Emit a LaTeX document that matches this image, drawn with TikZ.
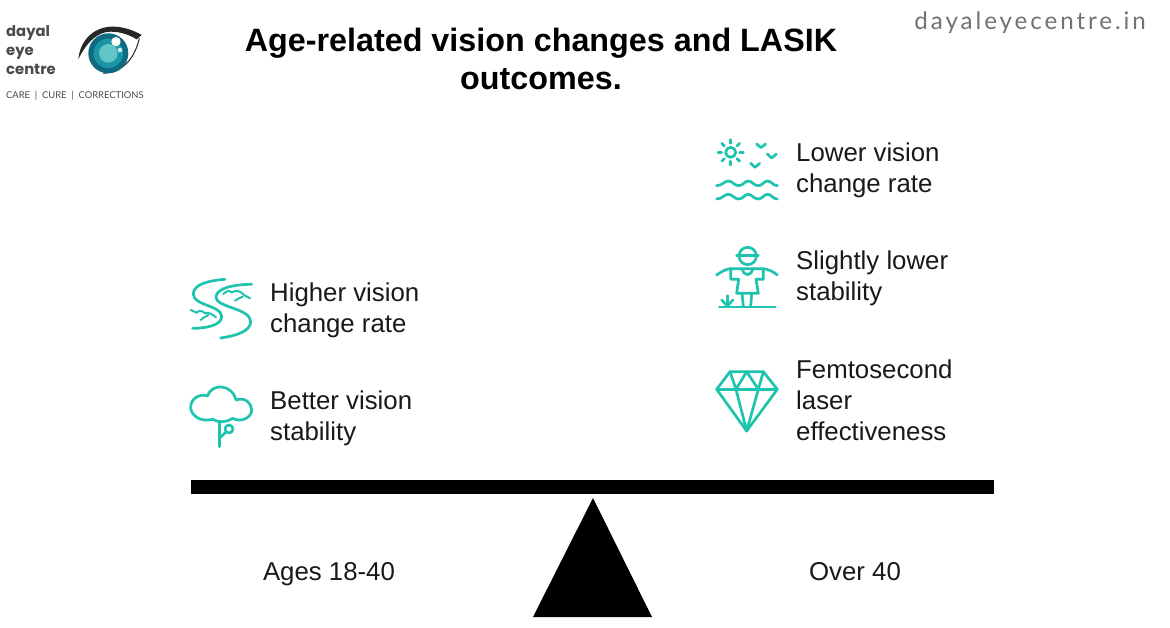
\documentclass[tikz,border=0pt]{standalone}
\usepackage{fontspec}
\setmainfont{Liberation Sans}
\newfontfamily\logofont{Poppins}
\newfontfamily\tagfont{Lato}
\newfontfamily\sitefont[LetterSpace=12]{Lato}
\definecolor{iconteal}{HTML}{1FC4AE}
\definecolor{logogray}{HTML}{4A4A4A}
\definecolor{irisdark}{HTML}{0E6A80}
\definecolor{irismid}{HTML}{1A96A8}
\definecolor{irislight}{HTML}{62C6C8}
\tikzset{
    x=1pt, y=-1pt,
    icon-line/.style = {draw=iconteal, line width=2.7pt, line cap=round, line join=round},
    zoomed/.style = {x=0.3333pt, y=-0.3333pt},
    title-text/.style = {font=\fontsize{32.3}{38.5}\selectfont\bfseries, align=center, inner sep=0pt},
    item-text/.style = {font=\fontsize{25.8}{31}\selectfont, align=left, anchor=north west, inner sep=0pt, text=black!90},
    age-text/.style = {font=\fontsize{25.8}{31}\selectfont, anchor=base, inner sep=0pt, text=black!90},
}

\begin{document}
\begin{tikzpicture}
\useasboundingbox (0,0) rectangle (1170,628);
\fill[white] (0,0) rectangle (1170,628);

% logo
\node[font=\logofont\fontsize{14.8}{19}\selectfont\bfseries, text=logogray, align=left, anchor=north west, inner sep=0pt] (logoname) at (6,25) {dayal\\eye\\centre};
\node[font=\tagfont\fontsize{9.4}{11}\selectfont, text=logogray, anchor=west, inner sep=0pt] (logotag) at (6,96) {CARE\ \ |\ \ CURE\ \ |\ \ CORRECTIONS};
\begin{scope}[shift={(0,10)}, zoomed]
    \fill[black!85] (235,148) .. controls (240,95) and (275,55) .. (330,50) .. controls (365,48) and (400,60) .. (425,75) -- (410,88) .. controls (385,72) and (350,62) .. (320,66) .. controls (285,72) and (255,105) .. (235,148) -- cycle;
    \draw[black!85, line width=1pt] (418,85) .. controls (405,140) and (375,185) .. (310,190);
    \fill[irisdark] (325,130) circle (60);
    \fill[irismid] (325,130) circle (44);
    \fill[irislight] (325,130) circle (28);
    \fill[white] (348,95) circle (14);
    \fill[white!80!cyan] (360,120) circle (7);
\end{scope}

% site name
\node[font=\sitefont\fontsize{24.2}{28}\selectfont, text=black!55, anchor=east, inner sep=0pt] (site) at (1146,23) {dayaleyecentre.in};

% title
\node[title-text] (title) at (541,59) {Age-related vision changes and LASIK\\outcomes.};

% left side texts
\node[item-text] (higher) at (270,283) {Higher vision\\change rate};
\node[item-text] (better) at (270,391) {Better vision\\stability};

% right side texts
\node[item-text] (lower) at (796,143) {Lower vision\\change rate};
\node[item-text] (slightly) at (796,251) {Slightly lower\\stability};
\node[item-text] (femto) at (796,360) {Femtosecond\\laser\\effectiveness};

% sun, birds, waves
\begin{scope}[shift={(700,130)}, zoomed]
    \draw[icon-line] (92,67) circle (15);
    \foreach \ang in {0,45,...,315}
        \draw[icon-line] (92,67) ++(\ang:27) -- ++(\ang:11);
    \draw[icon-line] (170,42) -- (183,53) -- (197,42);
    \draw[icon-line] (202,72) -- (215,84) -- (229,72);
    \draw[icon-line] (152,100) -- (165,112) -- (179,100);
    \foreach \yy in {160,200} {
        \draw[icon-line] (50,\yy+7) .. controls (68,\yy+7) and (72,\yy-7) .. (85,\yy-7) .. controls (98,\yy-7) and (102,\yy+7) .. (116,\yy+7)
            .. controls (130,\yy+7) and (133,\yy-7) .. (145,\yy-7) .. controls (157,\yy-7) and (160,\yy+7) .. (175,\yy+7)
            .. controls (188,\yy+7) and (191,\yy-7) .. (203,\yy-7) .. controls (215,\yy-7) and (218,\yy+7) .. (232,\yy+7);
    }
\end{scope}

% scarecrow
\begin{scope}[shift={(700,130)}, zoomed]
    \draw[icon-line] (110,377) -- (175,377);
    \draw[icon-line] (143,378) circle (26);
    \draw[icon-line] (50,435) .. controls (65,425) and (75,418) .. (92,416) -- (190,416) .. controls (205,418) and (220,425) .. (232,435);
    \draw[icon-line] (92,416) -- (92,448) -- (116,448) -- (110,490) -- (175,490) -- (168,448) -- (190,448) -- (190,416);
    \draw[icon-line] (127,416) .. controls (130,440) and (155,440) .. (158,416);
    \draw[icon-line] (126,490) -- (130,530);
    \draw[icon-line] (155,490) -- (152,530);
    \draw[icon-line] (58,531) -- (226,531);
    \draw[icon-line] (82,528) -- (82,497);
    \draw[icon-line] (65,510) -- (82,528) -- (99,510);
\end{scope}

% diamond
\begin{scope}[shift={(700,360)}, zoomed]
    \draw[icon-line] (90,35) -- (190,35) -- (232,88) -- (140,213) -- (50,88) -- cycle;
    \draw[icon-line] (50,88) -- (232,88);
    \draw[icon-line] (90,35) -- (108,88) -- (140,35) -- (175,88) -- (190,35);
    \draw[icon-line] (108,88) -- (140,213) -- (175,88);
\end{scope}

% river with birds
\begin{scope}[shift={(180,270)}, zoomed]
    \draw[icon-line] (135,28) .. controls (80,32) and (40,45) .. (40,72) .. controls (40,108) and (125,105) .. (125,140) .. controls (125,165) and (80,175) .. (38,175);
    \draw[icon-line] (215,43) .. controls (160,43) and (108,55) .. (108,82) .. controls (108,112) and (212,115) .. (212,155) .. controls (212,185) and (165,198) .. (122,204);
    \draw[icon-line, line width=2pt] (130,72) .. controls (140,62) and (150,60) .. (155,68) .. controls (165,60) and (180,60) .. (192,75) -- (210,85);
    \draw[icon-line, line width=2pt] (165,92) .. controls (172,85) and (180,85) .. (188,80);
    \draw[icon-line, line width=2pt] (32,120) -- (50,128) .. controls (58,120) and (68,122) .. (75,130) .. controls (85,125) and (95,132) .. (108,142);
    \draw[icon-line, line width=2pt] (62,150) .. controls (68,142) and (75,142) .. (85,135);
\end{scope}

% tree cloud
\begin{scope}[shift={(180,270)}, zoomed]
    \draw[icon-line] (98,448) .. controls (60,458) and (32,435) .. (32,412) .. controls (32,385) and (60,370) .. (82,378)
        .. controls (95,340) and (155,340) .. (168,390) .. controls (195,380) and (215,400) .. (215,420) .. controls (215,445) and (180,458) .. (158,445)
        .. controls (140,458) and (115,458) .. (98,448) -- cycle;
    \draw[icon-line] (118,455) -- (118,530);
    \draw[icon-line] (118,505) -- (136,488);
    \draw[icon-line] (147,477) circle (12);
\end{scope}

% balance
\fill[black] (191,480) rectangle (994,494);
\fill[black] (593,498) -- (652,617) -- (533,617) -- cycle;
\node[age-text] (young) at (329,580) {Ages 18-40};
\node[age-text] (old) at (855,580) {Over 40};
\end{tikzpicture}
\end{document}
